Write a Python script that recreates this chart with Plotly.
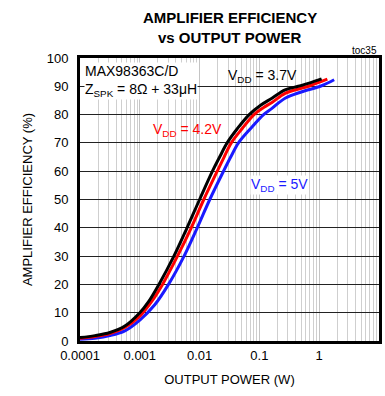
import plotly.graph_objects as go

# Data: log10(output power in W) and amplifier efficiency (%)
p37_log = [-4.0, -3.75, -3.5, -3.25, -3.0, -2.85, -2.68, -2.43, -2.21, -2.0, -1.785, -1.665, -1.54, -1.37, -1.17, -0.98, -0.79, -0.57, -0.35, -0.154, 0.04]
e37 = [1.2, 1.9, 3.0, 5.3, 10, 14, 20, 30, 40, 50, 60, 65, 70, 75, 80, 83.3, 85.8, 88.7, 90.0, 91.2, 92.6]

p42_log = [-4.0, -3.75, -3.5, -3.25, -3.0, -2.8, -2.62, -2.37, -2.14, -1.93, -1.705, -1.59, -1.47, -1.29, -1.09, -0.93, -0.79, -0.57, -0.3, -0.154, 0.136]
e42 = [1.0, 1.6, 2.6, 4.8, 8.8, 14, 20, 30, 40, 50, 60, 65, 70, 75, 80, 82.5, 84.3, 87.5, 89.3, 90.2, 92.5]

p50_log = [-4.0, -3.75, -3.5, -3.25, -3.0, -2.75, -2.52, -2.26, -2.04, -1.83, -1.60, -1.48, -1.35, -1.15, -0.93, -0.79, -0.57, -0.3, 0.04, 0.25]
e50 = [0.6, 1.0, 1.9, 3.6, 7.4, 12.8, 20, 30, 40, 50, 60, 65, 70, 75, 80, 82.2, 85.8, 88.0, 90.2, 92.3]

x_ticks = [0.0001, 0.001, 0.01, 0.1, 1, 10]
x_ticklabels = ["0.0001", "0.001", "0.01", "0.1", "1", "10"]
y_ticks = list(range(0, 101, 10))
minor_vals = [m * d for d in x_ticks[:-1] for m in range(2, 10)]

FONT = "Liberation Sans, Arial"

fig = go.Figure()
for lx, ey, col in [(p50_log, e50, "#1a1aff"), (p42_log, e42, "#ff0000"), (p37_log, e37, "#000000")]:
    fig.add_trace(go.Scatter(x=[10 ** v for v in lx], y=ey, mode="lines",
                             line=dict(color=col, width=3, shape="spline", smoothing=1.0),
                             showlegend=False, hoverinfo="skip"))

fig.update_layout(
    width=385, height=396,
    margin=dict(l=80, r=6, t=58, b=55),
    paper_bgcolor="white", plot_bgcolor="white",
    font=dict(family=FONT, size=13, color="black"),
    xaxis=dict(type="log", range=[-4, 1], tickvals=x_ticks, ticktext=x_ticklabels,
               showgrid=True, gridcolor="#c4c4c4", gridwidth=1,
               minor=dict(tickvals=minor_vals, showgrid=True, gridcolor="#cfcfcf", gridwidth=1, ticks=""),
               showline=True, linecolor="black", linewidth=3, mirror=True,
               ticks="", zeroline=False, automargin=False,
               tickfont=dict(size=13),
               title=dict(text="OUTPUT POWER (W)", standoff=14, font=dict(size=13))),
    yaxis=dict(range=[0, 100], tickvals=y_ticks,
               showgrid=True, gridcolor="#222222", gridwidth=1,
               showline=True, linecolor="black", linewidth=3, mirror=True,
               ticks="", zeroline=False, ticklabelstandoff=6, automargin=False,
               tickfont=dict(size=13),
               title=dict(text="AMPLIFIER EFFICIENCY (%)", standoff=12, font=dict(size=13))),
)

# Title as two centred lines
fig.add_annotation(text="<b>AMPLIFIER EFFICIENCY</b>", xref="paper", yref="paper",
                   x=0.5, y=1 + (58 - 17) / 283, xanchor="center", yanchor="middle", showarrow=False,
                   font=dict(family=FONT, size=15, color="black"))
fig.add_annotation(text="<b>vs OUTPUT POWER</b>", xref="paper", yref="paper",
                   x=0.5, y=1 + (58 - 38) / 283, xanchor="center", yanchor="middle", showarrow=False,
                   font=dict(family=FONT, size=15, color="black"))

ann = [
    dict(text="MAX98363C/D<br>Z<sub>SPK</sub> = 8Ω + 33μH", x=0.012, y=0.985, align="left", color="black", bg="white"),
    dict(text="V<sub>DD</sub> = 3.7V", x=0.49, y=0.97, align="left", color="black", bg=None),
    dict(text="V<sub>DD</sub> = 4.2V", x=0.24, y=0.78, align="left", color="#ff0000", bg=None),
    dict(text="V<sub>DD</sub> = 5V", x=0.57, y=0.585, align="left", color="#1a1aff", bg="white"),
]
for a in ann:
    fig.add_annotation(text=a["text"], xref="paper", yref="paper", x=a["x"], y=a["y"],
                       xanchor="left", yanchor="top", align=a["align"], showarrow=False,
                       font=dict(family=FONT, size=14, color=a["color"]),
                       bgcolor=a["bg"] if a["bg"] else "rgba(0,0,0,0)", borderpad=0)

fig.add_annotation(text="toc35", xref="paper", yref="paper", x=1.0, y=1.0, xanchor="right", yanchor="bottom",
                   showarrow=False, font=dict(family=FONT, size=10, color="black"))

fig.write_html("out.html")
